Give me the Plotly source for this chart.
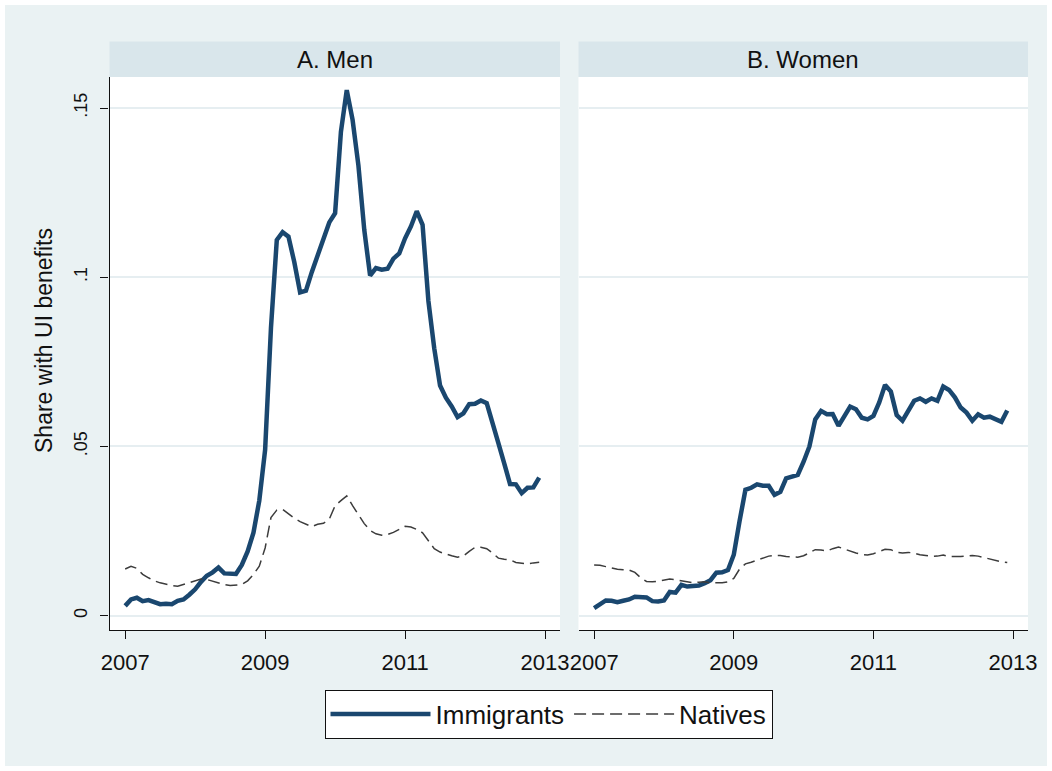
import plotly.graph_objects as go

# Monthly observations, January 2007 .. December 2012
months = [2007 + m / 12 for m in range(72)]

men_immigrants = [
    0.0029, 0.0048, 0.0053, 0.0043, 0.0046, 0.0041, 0.0034, 0.0035, 0.0034, 0.0044, 0.0048, 0.0062,
    0.0078, 0.0100, 0.0118, 0.0128, 0.0142, 0.0125, 0.0124, 0.0123, 0.0150, 0.0190, 0.0245, 0.0340,
    0.0490, 0.0850, 0.1110, 0.1133, 0.1120, 0.1045, 0.0955, 0.0960, 0.1015, 0.1065, 0.1115, 0.1162,
    0.1189, 0.1430, 0.1553, 0.1465, 0.1330, 0.1140, 0.1005, 0.1027, 0.1022, 0.1025, 0.1055, 0.1070,
    0.1115, 0.1150, 0.1195, 0.1155, 0.0930, 0.0790, 0.0680, 0.0644, 0.0618, 0.0587, 0.0598, 0.0625,
    0.0626, 0.0636, 0.0628, 0.0564, 0.0510, 0.0450, 0.0389, 0.0388, 0.0362, 0.0378, 0.0379, 0.0408,
]
men_natives = [
    0.0138, 0.0146, 0.0140, 0.0122, 0.0112, 0.0103, 0.0097, 0.0092, 0.0089, 0.0087, 0.0092, 0.0098,
    0.0104, 0.0108, 0.0107, 0.0102, 0.0095, 0.0092, 0.0089, 0.0090, 0.0092, 0.0103, 0.0122, 0.0146,
    0.0200, 0.0290, 0.0312, 0.0314, 0.0300, 0.0288, 0.0278, 0.0270, 0.0263, 0.0270, 0.0273, 0.0285,
    0.0325, 0.0340, 0.0354, 0.0325, 0.0298, 0.0272, 0.0252, 0.0242, 0.0238, 0.0240, 0.0246, 0.0255,
    0.0264, 0.0262, 0.0255, 0.0245, 0.0220, 0.0198, 0.0188, 0.0182, 0.0177, 0.0173, 0.0176, 0.0190,
    0.0202, 0.0202, 0.0198, 0.0185, 0.0170, 0.0167, 0.0165, 0.0157, 0.0154, 0.0153, 0.0156, 0.0158,
]
women_immigrants = [
    0.0022, 0.0035, 0.0045, 0.0044, 0.0040, 0.0044, 0.0048, 0.0056, 0.0055, 0.0054, 0.0043, 0.0042,
    0.0045, 0.0070, 0.0068, 0.0091, 0.0086, 0.0087, 0.0089, 0.0096, 0.0105, 0.0127, 0.0128, 0.0135,
    0.0180, 0.0280, 0.0372, 0.0378, 0.0388, 0.0384, 0.0384, 0.0357, 0.0366, 0.0406, 0.0412, 0.0416,
    0.0455, 0.0500, 0.0580, 0.0605, 0.0595, 0.0596, 0.0561, 0.0590, 0.0618, 0.0610, 0.0585, 0.0580,
    0.0590, 0.0630, 0.0682, 0.0662, 0.0593, 0.0576, 0.0608, 0.0635, 0.0642, 0.0632, 0.0642, 0.0635,
    0.0677, 0.0667, 0.0645, 0.0615, 0.0600, 0.0576, 0.0595, 0.0585, 0.0588, 0.0581, 0.0573, 0.0606,
]
women_natives = [
    0.0150, 0.0149, 0.0145, 0.0140, 0.0137, 0.0136, 0.0135, 0.0128, 0.0112, 0.0101, 0.0100, 0.0102,
    0.0105, 0.0108, 0.0106, 0.0103, 0.0098, 0.0097, 0.0099, 0.0100, 0.0097, 0.0096, 0.0097, 0.0100,
    0.0110, 0.0138, 0.0153, 0.0158, 0.0164, 0.0171, 0.0176, 0.0178, 0.0178, 0.0175, 0.0173, 0.0173,
    0.0177, 0.0186, 0.0195, 0.0194, 0.0191, 0.0198, 0.0203, 0.0197, 0.0190, 0.0185, 0.0181, 0.0179,
    0.0183, 0.0190, 0.0196, 0.0195, 0.0187, 0.0185, 0.0187, 0.0185, 0.0180, 0.0178, 0.0175, 0.0176,
    0.0179, 0.0175, 0.0174, 0.0175, 0.0176, 0.0178, 0.0176, 0.0172, 0.0166, 0.0162, 0.0159, 0.0157,
]

panel_titles = ["A. Men", "B. Women"]
series_names = ["Immigrants", "Natives"]
x_tickvals = [2007, 2009, 2011, 2013]
x_ticktext = ["2007", "2009", "2011", "2013"]
y_tickvals = [0, 0.05, 0.1, 0.15]
y_ticktext = ["0", ".05", ".1", ".15"]
y_title = "Share with UI benefits"

W, H = 1052, 771
FONT = "Liberation Sans, Arial, sans-serif"
NAVY = "#1A476F"
DASHC = "#3C3C3C"
REGION = "#EAF2F3"
STRIP = "#D9E6EB"

def px_x(p):
    return p / W

def px_y(p):
    return (H - p) / H

dom_y = [px_y(630), px_y(77)]
dom_xa = [px_x(109.5), px_x(560)]
dom_xb = [px_x(578.5), px_x(1028)]
x_range = [2006.776, 2013.214]
y_range = [-0.00423, 0.15916]

fig = go.Figure()
fig.add_trace(go.Scatter(x=months, y=men_immigrants, mode="lines", name=series_names[0],
                         line=dict(color=NAVY, width=4.5), xaxis="x", yaxis="y",
                         legendgroup="imm"))
fig.add_trace(go.Scatter(x=months, y=men_natives, mode="lines", name=series_names[1],
                         line=dict(color=DASHC, width=1.5, dash="12px,6px"), xaxis="x", yaxis="y",
                         legendgroup="nat"))
fig.add_trace(go.Scatter(x=months, y=women_immigrants, mode="lines", name=series_names[0],
                         line=dict(color=NAVY, width=4.5), xaxis="x2", yaxis="y2",
                         legendgroup="imm", showlegend=False))
fig.add_trace(go.Scatter(x=months, y=women_natives, mode="lines", name=series_names[1],
                         line=dict(color=DASHC, width=1.5, dash="12px,6px"), xaxis="x2", yaxis="y2",
                         legendgroup="nat", showlegend=False))

xaxis_common = dict(range=x_range, tickvals=x_tickvals, ticktext=x_ticktext,
                    showgrid=False, zeroline=False, showline=True, linecolor="#111111",
                    linewidth=1.2, ticks="outside", ticklen=8, tickwidth=1.2, tickcolor="#111111",
                    tickfont=dict(family=FONT, size=22, color="#111111"), ticklabelstandoff=4)
yaxis_common = dict(range=y_range, tickvals=y_tickvals, ticktext=y_ticktext,
                    showgrid=True, gridcolor="#E6EEF1", gridwidth=2, zeroline=False)

fig.update_layout(
    width=W, height=H,
    margin=dict(l=0, r=0, t=0, b=0, autoexpand=False),
    paper_bgcolor=REGION, plot_bgcolor="white",
    font=dict(family=FONT, color="#111111"),
    xaxis=dict(domain=dom_xa, anchor="y", **xaxis_common),
    xaxis2=dict(domain=dom_xb, anchor="y2", **xaxis_common),
    yaxis=dict(domain=dom_y, anchor="x", showline=True, linecolor="#111111", linewidth=1.2,
               ticks="outside", ticklen=8, tickwidth=1.2, tickcolor="#111111", tickangle=-90,
               tickfont=dict(family=FONT, size=18, color="#111111"), ticklabelstandoff=6,
               **yaxis_common),
    yaxis2=dict(domain=dom_y, anchor="x2", showline=False, showticklabels=False, ticks="",
                **yaxis_common),
    showlegend=True,
    legend=dict(orientation="h", x=px_x(548.5), xanchor="center", y=px_y(714), yanchor="middle",
                bgcolor="white", bordercolor="#111111", borderwidth=1,
                font=dict(family=FONT, size=26, color="#111111"), itemwidth=100,
                traceorder="normal"),
    shapes=[
        dict(type="rect", xref="paper", yref="paper", x0=0, x1=1, y0=0, y1=1,
             line=dict(color="white", width=10), fillcolor="rgba(0,0,0,0)", layer="below"),
        dict(type="rect", xref="paper", yref="paper", x0=dom_xa[0], x1=dom_xa[1],
             y0=px_y(77), y1=px_y(41.5), line=dict(width=0), fillcolor=STRIP, layer="below"),
        dict(type="rect", xref="paper", yref="paper", x0=dom_xb[0], x1=dom_xb[1],
             y0=px_y(77), y1=px_y(41.5), line=dict(width=0), fillcolor=STRIP, layer="below"),
    ],
    annotations=[
        dict(text=panel_titles[0], xref="paper", yref="paper", x=(dom_xa[0] + dom_xa[1]) / 2,
             y=px_y(59.5), xanchor="center", yanchor="middle", showarrow=False,
             font=dict(family=FONT, size=24, color="#111111")),
        dict(text=panel_titles[1], xref="paper", yref="paper", x=(dom_xb[0] + dom_xb[1]) / 2,
             y=px_y(59.5), xanchor="center", yanchor="middle", showarrow=False,
             font=dict(family=FONT, size=24, color="#111111")),
        dict(text=y_title, xref="paper", yref="paper", x=px_x(44), y=px_y(341),
             xanchor="center", yanchor="middle", textangle=-90, showarrow=False,
             font=dict(family=FONT, size=23, color="#111111")),
    ],
)

fig.write_html("out.html", config={"displayModeBar": False},
               post_script="document.body.style.margin='0px';document.body.style.overflow='hidden';")
